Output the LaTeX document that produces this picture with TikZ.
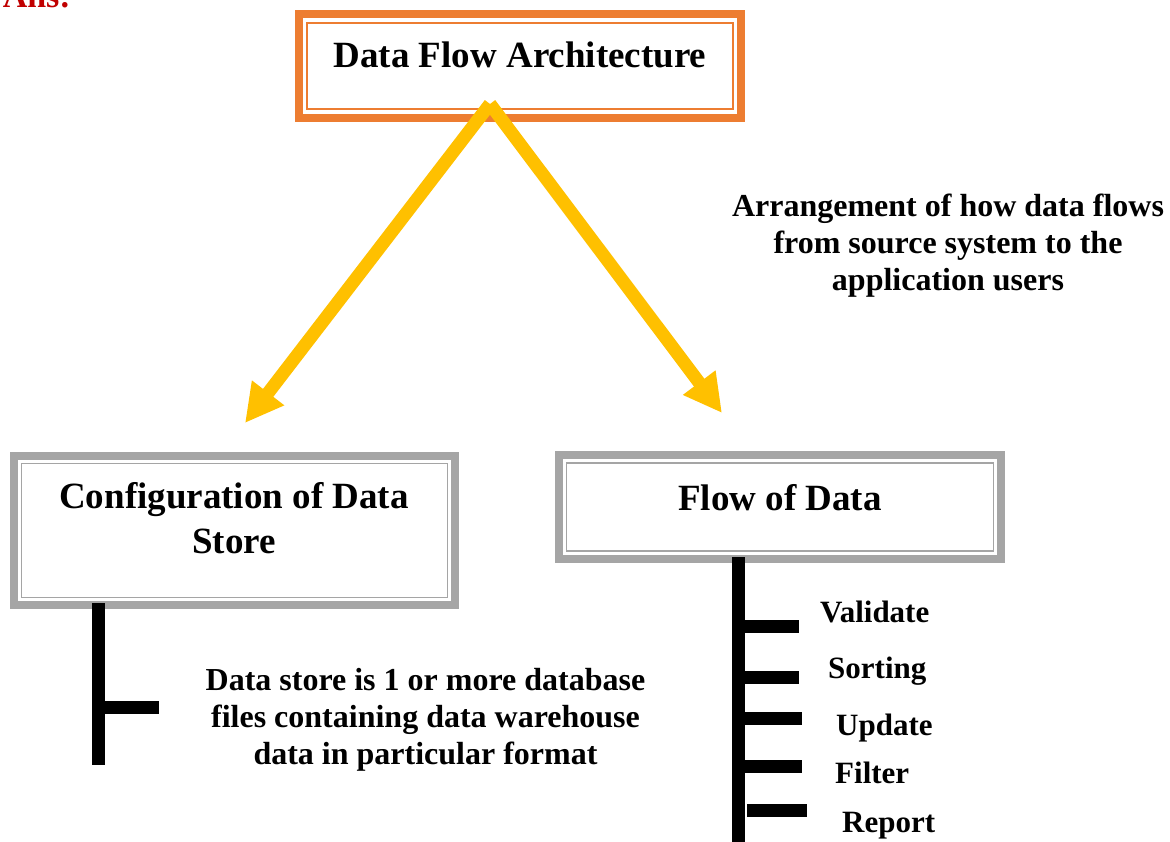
\documentclass[tikz,border=0pt]{standalone}
\usepackage{fontspec}
\setmainfont{Liberation Serif}
\usetikzlibrary{arrows.meta,calc}
\definecolor{orng}{HTML}{ED7D31}
\definecolor{gry}{HTML}{A5A5A5}
\definecolor{yel}{HTML}{FFC000}
\definecolor{ansred}{HTML}{C00000}
\begin{document}
\begin{tikzpicture}[x=1pt,y=-1pt,
  boxframe/.style={draw, line width=8pt, inner sep=0pt, outer sep=0pt, fill=white},
  orangebox/.style={boxframe, draw=orng},
  graybox/.style={boxframe, draw=gry},
  innerline/.style={line width=1.6pt},
  bigtext/.style={font=\bfseries\fontsize{37}{45}\selectfont, inner sep=0pt, anchor=base, align=center},
  bodytext/.style={font=\bfseries\fontsize{32}{37}\selectfont, inner sep=0pt, anchor=base, align=center},
  steptext/.style={font=\bfseries\fontsize{31}{36}\selectfont, inner sep=0pt, anchor=base west},
  flowarrow/.style={draw=yel, line width=13pt, -{Triangle[length=38pt,width=38pt]}},
  stem/.style={draw=black, line width=13pt},
]
\useasboundingbox (0,0) rectangle (1170,842);

% answer label
\node[font=\bfseries\fontsize{34}{40}\selectfont, text=ansred, inner sep=0pt, anchor=base east] (ans) at (71,8) {Ans:};

% top box
\node[orangebox, minimum width=442pt, minimum height=104pt] (top) at (520,66) {};
\draw[orng, innerline] ($(top.north west)+(8,9)$) rectangle ($(top.south east)+(-8,-9)$);
\node[bigtext] (toptext) at (520,68) {Data Flow Architecture};

% left box
\node[graybox, minimum width=441pt, minimum height=149pt] (lbox) at (234.5,530.5) {};
\draw[gry, innerline] ($(lbox.north west)+(7.5,7.5)$) rectangle ($(lbox.south east)+(-7.5,-7.5)$);
\node[bigtext] (ltext) at (234,553) {Configuration of Data\\Store};

% right box
\node[graybox, minimum width=442pt, minimum height=104pt] (rbox) at (780,507) {};
\draw[gry, innerline] ($(rbox.north west)+(7.5,8)$) rectangle ($(rbox.south east)+(-7.5,-8)$);
\node[bigtext] (rtext) at (780,510) {Flow of Data};

% arrows
\coordinate (apex) at (490,104);
\coordinate (ltip) at (245,423);
\coordinate (rtip) at (722,413);
\draw[flowarrow] (apex) -- (ltip);
\draw[flowarrow] (apex) -- (rtip);

% description
\node[bodytext] (desc) at (948,291) {Arrangement of how data flows\\from source system to the\\application users};

% left stem
\coordinate (lstop) at (98.5,603);
\coordinate (lsbot) at (98.5,765);
\coordinate (lsj) at (98.5,707);
\coordinate (lse) at (159,707);
\draw[stem] (lstop) -- (lsbot);
\draw[stem] (lsj) -- (lse);
\node[bodytext] (note) at (425.5,764) {Data store is 1 or more database\\files containing data warehouse\\data in particular format};

% right stem
\coordinate (rstop) at (738.5,557);
\coordinate (rsbot) at (738.5,842);
\draw[stem] (rstop) -- (rsbot);
\coordinate (j1) at (738.5,626); \coordinate (e1) at (799,626);
\coordinate (j2) at (738.5,677); \coordinate (e2) at (799,677);
\coordinate (j3) at (738.5,718); \coordinate (e3) at (802,718);
\coordinate (j4) at (738.5,766); \coordinate (e4) at (802,766);
\coordinate (j5) at (747,810);   \coordinate (e5) at (807,810);
\draw[stem] (j1) -- (e1);
\draw[stem] (j2) -- (e2);
\draw[stem] (j3) -- (e3);
\draw[stem] (j4) -- (e4);
\draw[stem] (j5) -- (e5);
\node[steptext] (validate) at (820,622) {Validate};
\node[steptext] (sorting) at (828,678) {Sorting};
\node[steptext] (update) at (836,735) {Update};
\node[steptext] (filter) at (835,783) {Filter};
\node[steptext] (report) at (842,832) {Report};
\end{tikzpicture}
\end{document}
